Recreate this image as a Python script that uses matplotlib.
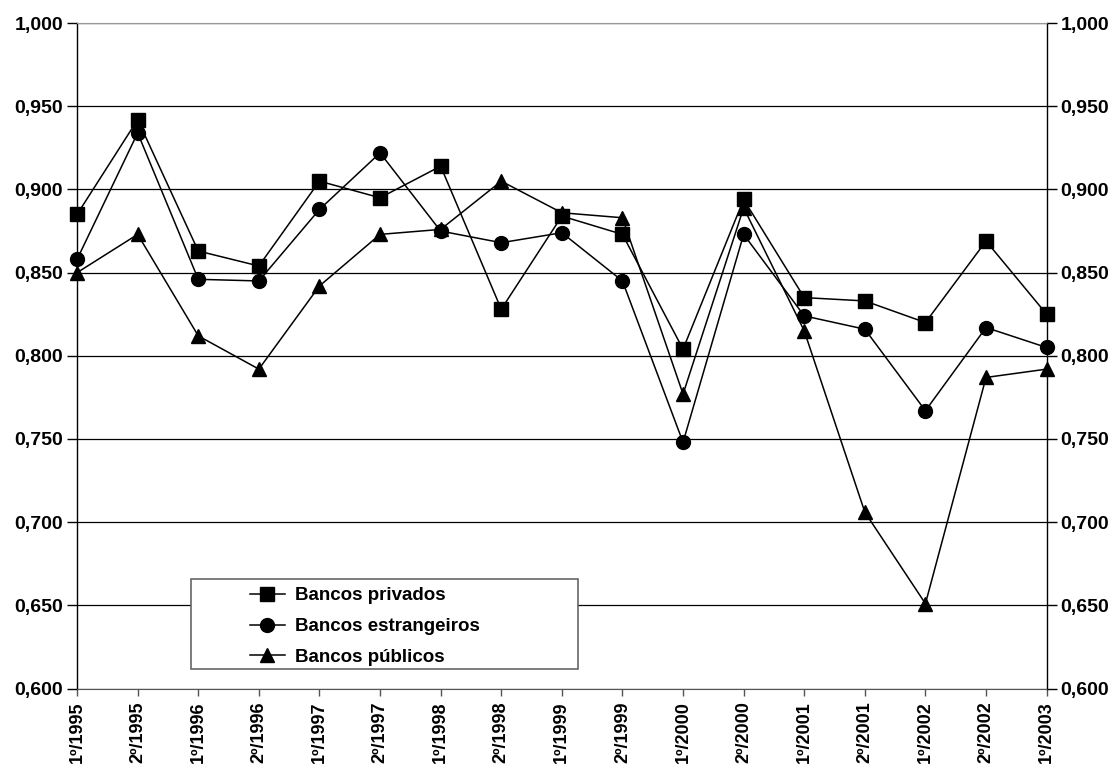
import numpy as np
import matplotlib.pyplot as plt
from matplotlib.ticker import FuncFormatter
from matplotlib.patches import Rectangle

periodos = ['1º/1995', '2º/1995', '1º/1996', '2º/1996', '1º/1997', '2º/1997',
            '1º/1998', '2º/1998', '1º/1999', '2º/1999', '1º/2000', '2º/2000',
            '1º/2001', '2º/2001', '1º/2002', '2º/2002', '1º/2003']

privados = [0.885, 0.942, 0.863, 0.854, 0.905, 0.895, 0.914, 0.828, 0.884,
            0.873, 0.804, 0.894, 0.835, 0.833, 0.820, 0.869, 0.825]
estrangeiros = [0.858, 0.934, 0.846, 0.845, 0.888, 0.922, 0.875, 0.868, 0.874,
                0.845, 0.748, 0.873, 0.824, 0.816, 0.767, 0.817, 0.805]
publicos = [0.850, 0.873, 0.812, 0.792, 0.842, 0.873, 0.876, 0.905, 0.886,
            0.883, 0.777, 0.889, 0.815, 0.706, 0.651, 0.787, 0.792]

yticks = [0.600, 0.650, 0.700, 0.750, 0.800, 0.850, 0.900, 0.950, 1.000]

plt.rcParams['font.family'] = ['Liberation Sans', 'DejaVu Sans']
plt.rcParams['font.weight'] = 'bold'

fig = plt.figure(figsize=(11.17, 7.71), dpi=100)
ax = fig.add_axes([0.069, 0.107, 0.868, 0.863])

x = np.arange(len(periodos))
ax.plot(x, privados, color='black', lw=1.1, marker='s', ms=9.5, label='Bancos privados',
        zorder=3, clip_on=False)
ax.plot(x, estrangeiros, color='black', lw=1.1, marker='o', ms=10, label='Bancos estrangeiros',
        zorder=3, clip_on=False)
ax.plot(x, publicos, color='black', lw=1.1, marker='^', ms=10.5, label='Bancos públicos',
        zorder=3, clip_on=False)

ax.set_xlim(0, len(periodos) - 1)
ax.set_ylim(0.6, 1.0)
ax.set_yticks(yticks)
fmt = FuncFormatter(lambda v, p: f'{v:.3f}'.replace('.', ','))
ax.yaxis.set_major_formatter(fmt)
ax.set_xticks(x)
ax.set_xticklabels(periodos, rotation=90, fontsize=13, fontweight='bold')
ax.tick_params(axis='y', labelsize=14, length=7, width=1, direction='out', pad=3)
ax.tick_params(axis='x', length=5, width=1, direction='out', color='#555555', pad=4)
ax.grid(axis='y', color='black', lw=0.9)
ax.set_axisbelow(True)

for side in ['left', 'right']:
    ax.spines[side].set_color('black')
    ax.spines[side].set_linewidth(1)
ax.spines['top'].set_color('#999999')
ax.spines['bottom'].set_color('#555555')

# same scale repeated on the right side
ax2 = ax.twinx()
ax2.set_ylim(0.6, 1.0)
ax2.set_yticks(yticks)
ax2.yaxis.set_major_formatter(fmt)
ax2.tick_params(axis='y', labelsize=14, length=7, width=1, direction='out', pad=3)
for s in ax2.spines.values():
    s.set_visible(False)

# legend box: white frame with the entries set off to the right
ax.add_patch(Rectangle((0.1175, 0.029), 0.399, 0.1354, transform=ax.transAxes,
                       facecolor='white', edgecolor='#666666', lw=1.2, zorder=4))
leg = ax.legend(loc='upper left', bbox_to_anchor=(0.178, 0.152), fontsize=13.5,
                frameon=False, handlelength=1.9, borderpad=0, labelspacing=0.72,
                handletextpad=0.5, borderaxespad=0)
for t in leg.get_texts():
    t.set_fontweight('bold')
leg.set_zorder(5)

fig.savefig('out.png', dpi=100)
